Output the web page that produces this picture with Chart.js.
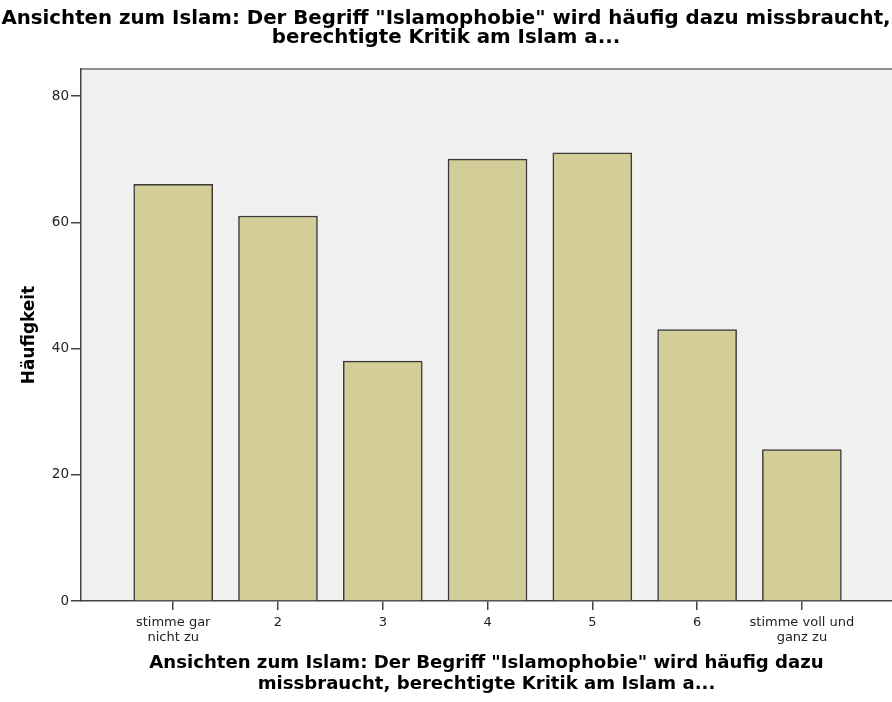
<!DOCTYPE html>
<html>
<head>
<meta charset="utf-8">
<script src="https://cdn.jsdelivr.net/npm/chart.js@4"></script>
<style>
  html, body { margin: 0; padding: 0; background: #fff; }
  #wrap { width: 892px; height: 702px; }
</style>
</head>
<body>
<div id="wrap"><canvas id="chart" width="892" height="702"></canvas></div>
<script>
// Antwortkategorien und Häufigkeiten
const categories = ['stimme gar nicht zu', '2', '3', '4', '5', '6', 'stimme voll und ganz zu'];
const tickLabels = [['stimme gar', 'nicht zu'], '2', '3', '4', '5', '6', ['stimme voll und', 'ganz zu']];
const counts = [66, 61, 38, 70, 71, 43, 24];
const yTicks = [0, 20, 40, 60, 80];

const chartTitle = ['Ansichten zum Islam: Der Begriff "Islamophobie" wird häufig dazu missbraucht,', 'berechtigte Kritik am Islam a...'];
const xTitle = ['Ansichten zum Islam: Der Begriff "Islamophobie" wird häufig dazu', 'missbraucht, berechtigte Kritik am Islam a...'];
const yTitle = 'Häufigkeit';

const FONT = '"DejaVu Sans", Arial, sans-serif';

// Hintergrund der Plotfläche + Rahmen oben
const plotBackground = {
    id: 'plotBackground',
    beforeDraw(chart) {
        const { ctx, chartArea: a } = chart;
        ctx.save();
        ctx.fillStyle = '#f0f0f0';
        ctx.fillRect(a.left, a.top, a.right - a.left, a.bottom - a.top);
        ctx.strokeStyle = '#6e6e6e';
        ctx.lineWidth = 1.5;
        ctx.beginPath();
        ctx.moveTo(a.left, a.top);
        ctx.lineTo(a.right, a.top);
        ctx.stroke();
        ctx.restore();
    }
};

const ctx = document.getElementById('chart');

new Chart(ctx, {
    type: 'bar',
    data: {
        datasets: [{
            label: 'Häufigkeit',
            data: categories.map((c, i) => ({ x: i, y: counts[i] })),
            backgroundColor: '#d3ce97',
            borderColor: '#3a3a3a',
            borderWidth: 1.5,
            barThickness: 79
        }]
    },
    options: {
        responsive: false,
        animation: false,
        layout: { padding: 0 },
        plugins: {
            legend: { display: false },
            tooltip: { enabled: false },
            title: {
                display: true,
                text: chartTitle,
                color: '#000',
                font: { family: FONT, size: 19.8, weight: 'bold', lineHeight: 0.96 },
                padding: { top: 9.5, bottom: 21.5 }
            }
        },
        scales: {
            x: {
                type: 'linear',
                offset: false,
                min: -0.88,
                max: 6.86,
                afterBuildTicks: axis => {
                    axis.ticks = categories.map((c, i) => ({ value: i }));
                },
                afterFit: scale => { scale.height = 101; },
                grid: {
                    offset: false,
                    drawOnChartArea: false,
                    drawTicks: true,
                    tickLength: 9,
                    color: '#444',
                    lineWidth: 1.5
                },
                border: { display: true, color: '#444', width: 1.5 },
                ticks: {
                    autoSkip: false,
                    maxRotation: 0,
                    padding: 5,
                    color: '#222',
                    font: { family: FONT, size: 13, lineHeight: 1.15 },
                    callback: (value) => tickLabels[value]
                },
                title: {
                    display: true,
                    text: xTitle,
                    color: '#000',
                    font: { family: FONT, size: 18.1, weight: 'bold', lineHeight: 1.16 },
                    padding: { top: 0, bottom: 7.5 }
                }
            },
            y: {
                min: 0,
                max: 84.28,
                afterBuildTicks: axis => {
                    axis.ticks = yTicks.map(v => ({ value: v }));
                },
                afterFit: scale => { scale.width = 81; },
                grid: {
                    drawOnChartArea: false,
                    drawTicks: true,
                    tickLength: 10,
                    color: '#444',
                    lineWidth: 1.5
                },
                border: { display: true, color: '#444', width: 1.5 },
                ticks: {
                    padding: 2,
                    color: '#222',
                    font: { family: FONT, size: 13.5 }
                },
                title: {
                    display: true,
                    text: yTitle,
                    color: '#000',
                    font: { family: FONT, size: 16.9, weight: 'bold', lineHeight: 1.2 },
                    padding: { top: 19, bottom: 0 }
                }
            }
        }
    },
    plugins: [plotBackground]
});
</script>
</body>
</html>
